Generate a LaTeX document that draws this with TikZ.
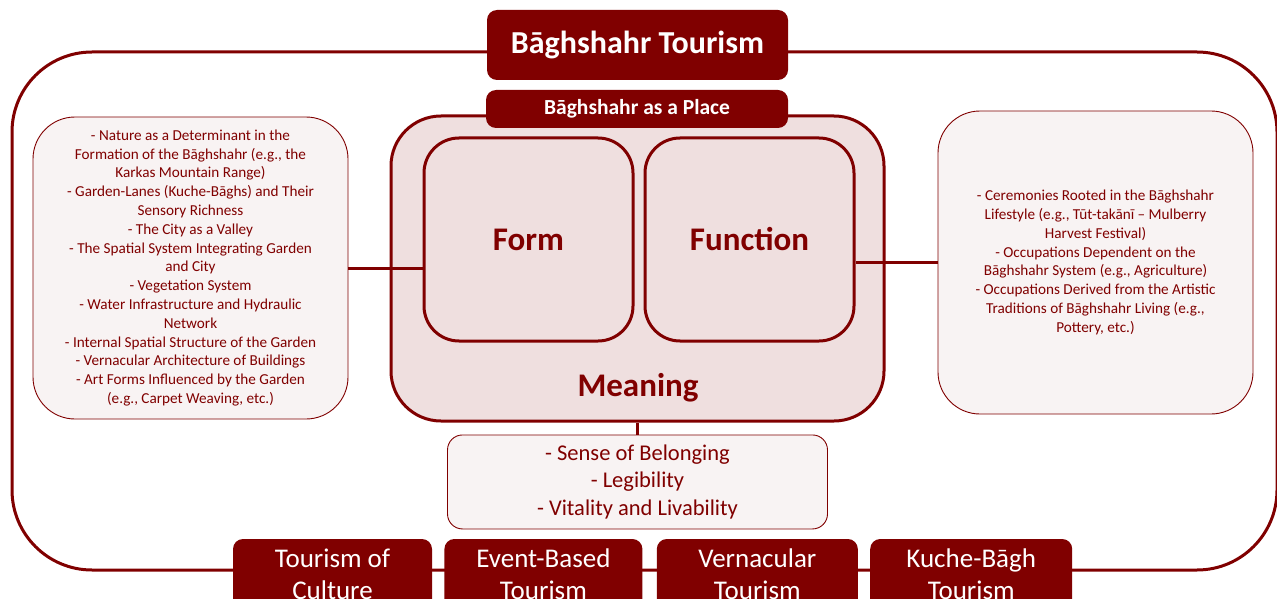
\documentclass[tikz,border=0pt]{standalone}
\usepackage{fontspec}
\setmainfont{Carlito}
\usetikzlibrary{positioning}
\definecolor{baghred}{RGB}{128,0,0}
\definecolor{placefill}{RGB}{239,223,223}
\definecolor{listfill}{RGB}{248,243,243}
\tikzset{
  headbox/.style={fill=baghred, rounded corners=10pt, text=white, inner sep=0pt, align=center},
  placebox/.style={draw=baghred, fill=placefill, line width=3pt, rounded corners=50pt, inner sep=0pt},
  pillar/.style={draw=baghred, line width=3pt, rounded corners=35pt, text=baghred, inner sep=0pt,
    minimum width=209pt, minimum height=203pt, font=\bfseries\fontsize{33}{36}\selectfont},
  listbox/.style={draw=baghred, fill=listfill, line width=0.9pt, rounded corners=42pt, text=baghred,
    inner sep=0pt, align=center, font=\fontsize{15.2}{18.8}\selectfont},
  tourbox/.style={headbox, minimum height=70pt, font=\fontsize{27}{32}\selectfont},
  link/.style={draw=baghred, line width=3pt},
}

\begin{document}
\begin{tikzpicture}[x=1pt, y=-1pt]
  \clip (0,0) rectangle (1277,599);
  \useasboundingbox (0,0) rectangle (1277,599);
  % outer frame
  \draw[baghred, line width=3pt, rounded corners=80pt] (12,52) rectangle (1277,570);

  \node[headbox, minimum width=301pt, minimum height=70pt, font=\bfseries\fontsize{32}{36}\selectfont] (title) at (637.5,45) {Bāghshahr Tourism};

  % place: form, function, meaning
  \node[placebox, minimum width=493pt, minimum height=305pt] (core) at (637.5,268.5) {};
  \node[headbox, minimum width=302pt, minimum height=38pt, font=\bfseries\fontsize{21.5}{24}\selectfont] (place) at (637,109) {Bāghshahr as a Place};
  \node[pillar] (form) at (528.5,239.5) {Form};
  \node[pillar] (function) [right=9pt of form] {Function};
  \node[text=baghred, font=\bfseries\fontsize{33}{36}\selectfont] (meaning) at (638,388) {Meaning};

  % lists
  \node[listbox, minimum width=315pt, minimum height=302pt] (formlist) at (190.5,268) {%
    - Nature as a Determinant in the\\
    Formation of the Bāghshahr (e.g., the\\
    Karkas Mountain Range)\\
    - Garden-Lanes (Kuche-Bāghs) and Their\\
    Sensory Richness\\
    - The City as a Valley\\
    - The Spatial System Integrating Garden\\
    and City\\
    - Vegetation System\\
    - Water Infrastructure and Hydraulic\\
    Network\\
    - Internal Spatial Structure of the Garden\\
    - Vernacular Architecture of Buildings\\
    - Art Forms Influenced by the Garden\\
    (e.g., Carpet Weaving, etc.)};
  \node[listbox, minimum width=315pt, minimum height=303pt] (funclist) at (1095.5,262.5) {%
    - Ceremonies Rooted in the Bāghshahr\\
    Lifestyle (e.g., Tūt-takānī – Mulberry\\
    Harvest Festival)\\
    - Occupations Dependent on the\\
    Bāghshahr System (e.g., Agriculture)\\
    - Occupations Derived from the Artistic\\
    Traditions of Bāghshahr Living (e.g.,\\
    Pottery, etc.)};
  \node[listbox, rounded corners=15pt, minimum width=380pt, minimum height=94pt,
    font=\fontsize{22.5}{27.5}\selectfont] (meanlist) [below=12pt of core] {%
    - Sense of Belonging\\
    - Legibility\\
    - Vitality and Livability};

  % kinds of tourism
  \node[tourbox, minimum width=199pt] (culture) at (332.5,574) {Tourism of\\Culture};
  \node[tourbox, minimum width=198pt] (event) [right=12pt of culture] {Event-Based\\Tourism};
  \node[tourbox, minimum width=201pt] (vernacular) [right=14pt of event] {Vernacular\\Tourism};
  \node[tourbox, minimum width=202pt] (kuche) [right=12pt of vernacular] {Kuche-Bāgh\\Tourism};

  \draw[link] (formlist.east) -- (formlist.east -| form.west);
  \draw[link] (funclist.west) -- (funclist.west -| function.east);
  \draw[link] (core.south) -- (meanlist.north);
\end{tikzpicture}
\end{document}
